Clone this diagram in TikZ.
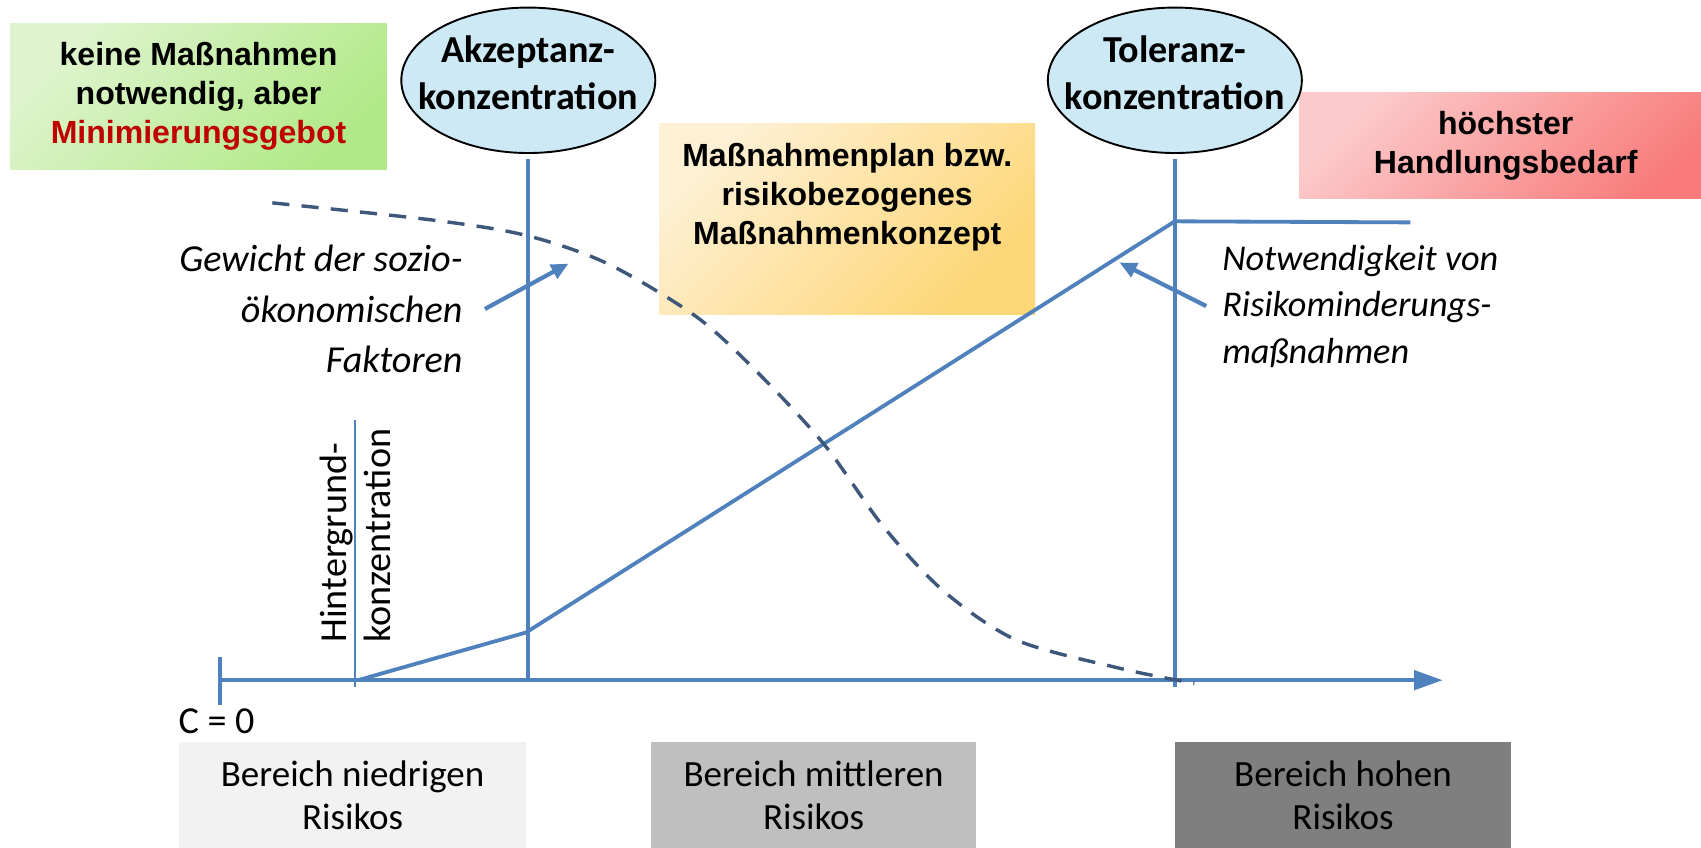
\documentclass[tikz,border=0pt]{standalone}
\usepackage{fontspec}
\setmainfont{Carlito}
\newfontfamily\arialfont{Liberation Sans}
\usetikzlibrary{shapes.geometric,arrows.meta,positioning}
\definecolor{axisblue}{RGB}{79,129,189}
\definecolor{dashblue}{RGB}{62,88,124}
\definecolor{ellipseblue}{RGB}{205,233,246}
\definecolor{greenlight}{RGB}{222,244,206}
\definecolor{greendark}{RGB}{178,233,136}
\definecolor{orangelight}{RGB}{254,240,212}
\definecolor{orangedark}{RGB}{253,214,118}
\definecolor{redlight}{RGB}{252,202,202}
\definecolor{reddark}{RGB}{248,122,122}
\definecolor{darkred}{RGB}{192,0,0}
\definecolor{lowgray}{RGB}{242,242,242}
\definecolor{midgray}{RGB}{191,191,191}
\definecolor{highgray}{RGB}{127,127,127}

\begin{document}
\begin{tikzpicture}[x=0.01cm,y=-0.01cm,
	limit/.style={ellipse, draw=black, line width=0.5pt, fill=ellipseblue, inner sep=0pt,
		minimum width=2.34cm, minimum height=1.34cm},
	limittext/.style={inner sep=0pt, align=center, font=\fontsize{10}{12.2}\selectfont\bfseries},
	boxtext/.style={inner sep=0pt, align=center, font=\arialfont\fontsize{8.4}{10.2}\selectfont\bfseries},
	note/.style={inner sep=0pt, font=\fontsize{9.5}{12.2}\selectfont\itshape},
	riskbox/.style={inner sep=0pt, minimum height=0.98cm, align=center, font=\fontsize{9.7}{11.2}\selectfont},
	thickblue/.style={axisblue, line width=1.1pt}]
	\useasboundingbox (0,0) rectangle (1568,781);

	% action boxes
	\node[boxtext, minimum width=3.47cm, minimum height=1.34cm,
		left color=greenlight, right color=greendark, shading angle=45] (keine) at (183,89)
		{keine Maßnahmen\\notwendig, aber\\\textcolor{darkred}{Minimierungsgebot}};
	\node[minimum width=3.46cm, minimum height=1.76cm, inner sep=0pt,
		left color=orangelight, right color=orangedark, shading angle=45] (plan) at (781,202) {};
	\node[boxtext, anchor=north, below=0.18cm of plan.north] (plantext)
		{Maßnahmenplan bzw.\\risikobezogenes\\Maßnahmenkonzept};
	\node[minimum width=3.92cm, minimum height=0.98cm, inner sep=0pt,
		left color=redlight, right color=reddark, shading angle=45] (hoechst) at (1394,134) {};
	\node[boxtext] (hoechsttext) at (1388,134) {höchster\\Handlungsbedarf};

	% limits
	\node[limit] (akzeptanz) at (487,74) {};
	\node[limittext] (akzeptanztext) at (487,67) {Akzeptanz-\\konzentration};
	\node[limit] (toleranz) at (1083,74) {};
	\node[limittext] (toleranztext) at (1083,67) {Toleranz-\\konzentration};

	% axis
	\coordinate (origin) at (205,627);
	\coordinate (axisend) at (1330,627);
	\draw[thickblue, -{Triangle[length=7.5pt,width=5pt]}] (origin) -- (axisend);
	\draw[thickblue] (203,606) -- (203,650);
	\node[anchor=west, inner sep=0pt, font=\fontsize{10}{12}\selectfont] (czero) at (164,665) {C = 0};
	\draw[thickblue, shorten <=1.2pt] (akzeptanz.south) -- (akzeptanz.south |- origin);
	\draw[thickblue, shorten <=1.2pt] (toleranz.south) -- ([yshift=-0.06cm]toleranz.south |- origin);

	% background concentration
	\draw[axisblue, line width=0.4pt] (327,387) -- (327,633);
	\node[rotate=90, anchor=west, align=left, inner sep=0pt, font=\fontsize{10}{11.5}\selectfont]
		(hintergrund) at (328,593) {Hintergrund-\\konzentration};

	% curves
	\coordinate (bg) at (330,627);
	\coordinate (akzknick) at (485,583);
	\coordinate (tolknick) at (1083,204);
	\coordinate (plateau) at (1300,205);
	\draw[axisblue, line width=1pt, line join=round] (bg) -- (akzknick) -- (tolknick) -- (plateau);
	\draw[dashblue, line width=0.9pt, dash pattern=on 4.5pt off 3.2pt]
		plot[smooth, tension=0.5] coordinates {(251,187) (400,203) (485,217) (560,243) (642,292)
			(700,345) (760,410) (814,485) (870,545) (937,590) (1032,616) (1101,630)};

	% notes
	\node[note, font=\fontsize{10}{13.3}\selectfont\itshape, align=right, anchor=north east] (gewicht) at (427,225)
		{Gewicht der sozio-\\ökonomischen\\Faktoren};
	\coordinate (gewichtpfeil) at (524,243);
	\draw[thickblue, -{Triangle[length=4.5pt,width=4pt]}] ([xshift=0.2cm]gewicht.east) -- (gewichtpfeil);
	\node[note, align=left, anchor=north west] (notwendig) at (1126,225)
		{Notwendigkeit von\\Risikominderungs-\\maßnahmen};
	\coordinate (notwendigpfeil) at (1032,242);
	\draw[thickblue, -{Triangle[length=4.5pt,width=4pt]}] ([xshift=-0.14cm]notwendig.west) -- (notwendigpfeil);

	% risk ranges
	\node[riskbox, fill=lowgray, minimum width=3.2cm] (niedrig) at (325,733) {Bereich niedrigen\\Risikos};
	\node[riskbox, fill=midgray, minimum width=3.0cm] (mittel) at (750,733) {Bereich mittleren\\Risikos};
	\node[riskbox, fill=highgray, minimum width=3.1cm] (hoch) at (1238,733) {Bereich hohen\\Risikos};
\end{tikzpicture}
\end{document}
